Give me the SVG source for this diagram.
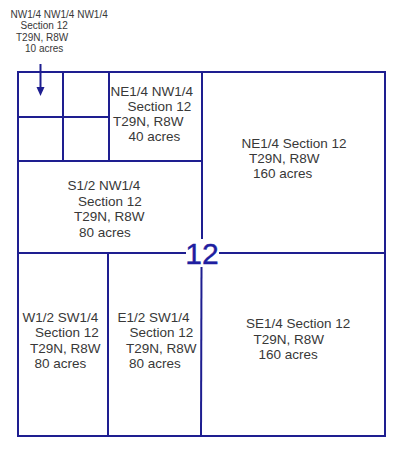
<svg xmlns="http://www.w3.org/2000/svg" width="400" height="449" viewBox="0 0 400 449">
<style>
.ln{stroke:#1e1e90;stroke-width:2;fill:none;stroke-linecap:square}
.t{font-family:"Liberation Sans",Arial,sans-serif;font-size:13.5px;fill:#383838}
.s{font-family:"Liberation Sans",Arial,sans-serif;font-size:10px;fill:#383838}
.big{font-family:"Liberation Sans",Arial,sans-serif;font-size:30px;fill:#1e1ea0;stroke:#1e1ea0;stroke-width:0.4;text-anchor:middle}
</style>
<rect width="400" height="449" fill="#ffffff"/>
<g id="grid">
<rect class="ln" x="18" y="72" width="367" height="364"/>
<line class="ln" x1="63" y1="72" x2="63" y2="161"/>
<line class="ln" x1="109" y1="72" x2="109" y2="161"/>
<line class="ln" x1="18" y1="117" x2="109" y2="117"/>
<line class="ln" x1="18" y1="161" x2="202" y2="161"/>
<line class="ln" x1="202" y1="72" x2="202" y2="238"/>
<line class="ln" x1="201.5" y1="268" x2="201" y2="436"/>
<line class="ln" x1="18" y1="253" x2="185" y2="253"/>
<line class="ln" x1="220" y1="253" x2="385" y2="253"/>
<line class="ln" x1="108" y1="253" x2="108" y2="436"/>
</g>
<g id="section-number">
<text class="big" x="202" y="263.5">12</text>
</g>
<g id="nw-nw-nw-label">
<text class="s" x="10.5" y="17.5">NW1/4 NW1/4 NW1/4</text>
<text class="s" x="20.5" y="29">Section 12</text>
<text class="s" x="16" y="40.5">T29N, R8W</text>
<text class="s" x="25" y="52">10 acres</text>
</g>
<g id="ne-nw">
<text class="t" x="110.5" y="96">NE1/4 NW1/4</text>
<text class="t" x="127.5" y="111">Section 12</text>
<text class="t" x="113" y="126">T29N, R8W</text>
<text class="t" x="128.5" y="141">40 acres</text>
</g>
<g id="ne">
<text class="t" x="241.5" y="148">NE1/4 Section 12</text>
<text class="t" x="249" y="163">T29N, R8W</text>
<text class="t" x="253" y="178">160 acres</text>
</g>
<g id="s-nw">
<text class="t" x="67.5" y="190">S1/2 NW1/4</text>
<text class="t" x="78" y="205.5">Section 12</text>
<text class="t" x="74" y="221">T29N, R8W</text>
<text class="t" x="79" y="236.5">80 acres</text>
</g>
<g id="w-sw">
<text class="t" x="22.5" y="321.5">W1/2 SW1/4</text>
<text class="t" x="35" y="337">Section 12</text>
<text class="t" x="30" y="352.5">T29N, R8W</text>
<text class="t" x="34.5" y="368">80 acres</text>
</g>
<g id="e-sw">
<text class="t" x="117.5" y="321.5">E1/2 SW1/4</text>
<text class="t" x="129.5" y="337">Section 12</text>
<text class="t" x="126" y="352.5">T29N, R8W</text>
<text class="t" x="129" y="368">80 acres</text>
</g>
<g id="se">
<text class="t" x="246" y="328">SE1/4 Section 12</text>
<text class="t" x="253.5" y="343.5">T29N, R8W</text>
<text class="t" x="258.5" y="359">160 acres</text>
</g>
<g id="connectors">
<line x1="40.5" y1="64" x2="40.5" y2="88" stroke="#1e1e90" stroke-width="2"/>
<path d="M36.5,87 L44.5,87 L40.5,96 Z" fill="#1e1e90"/>
</g>
</svg>
